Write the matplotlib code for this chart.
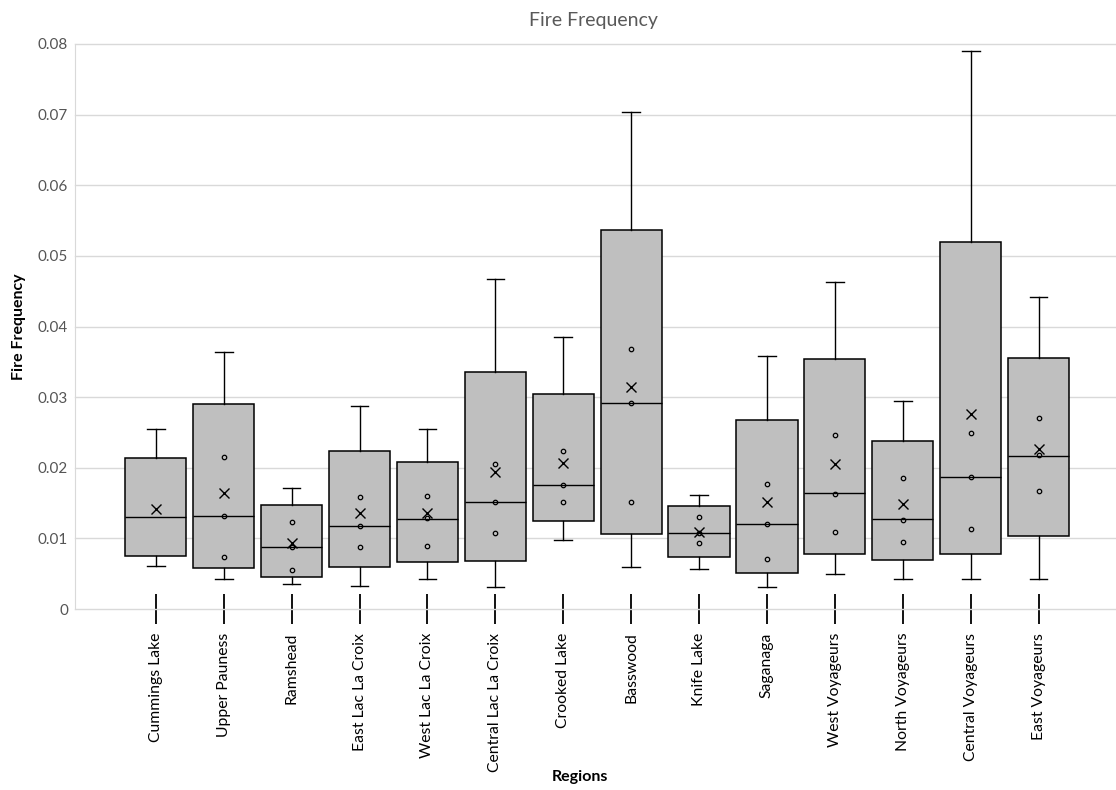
import matplotlib
matplotlib.use("Agg")
from matplotlib import pyplot as plt
import numpy as np

plt.rcParams['font.family'] = ['Lato', 'DejaVu Sans']

regions = ["Cummings Lake", "Upper Pauness", "Ramshead", "East Lac La Croix",
           "West Lac La Croix", "Central Lac La Croix", "Crooked Lake", "Basswood",
           "Knife Lake", "Saganaga", "West Voyageurs", "North Voyageurs",
           "Central Voyageurs", "East Voyageurs"]

whisker_lo = [0.0061, 0.0042, 0.0036, 0.0032, 0.0042, 0.0031, 0.0098, 0.0060,
              0.0057, 0.0031, 0.0049, 0.0043, 0.0042, 0.0043]
q1 = [0.0075, 0.0058, 0.0046, 0.0060, 0.0066, 0.0068, 0.0125, 0.0106,
      0.0074, 0.0051, 0.0078, 0.0070, 0.0078, 0.0103]
median = [0.0130, 0.0132, 0.0088, 0.0118, 0.0128, 0.0152, 0.0176, 0.0292,
          0.0108, 0.0120, 0.0164, 0.0127, 0.0187, 0.0217]
q3 = [0.0214, 0.0290, 0.0147, 0.0224, 0.0208, 0.0336, 0.0304, 0.0536,
      0.0146, 0.0268, 0.0354, 0.0238, 0.0520, 0.0355]
whisker_hi = [0.0255, 0.0364, 0.0172, 0.0288, 0.0255, 0.0467, 0.0385, 0.0703,
              0.0162, 0.0358, 0.0463, 0.0295, 0.0790, 0.0442]
mean = [0.0142, 0.0165, 0.0094, 0.0136, 0.0136, 0.0194, 0.0207, 0.0314,
        0.0109, 0.0151, 0.0205, 0.0149, 0.0276, 0.0227]
inner_points = [
    [],
    [0.0215, 0.0132, 0.0074],
    [0.0123, 0.0088, 0.0056],
    [0.0158, 0.0118, 0.0088],
    [0.0160, 0.0129, 0.0090],
    [0.0206, 0.0152, 0.0107],
    [0.0224, 0.0175, 0.0152],
    [0.0368, 0.0292, 0.0152],
    [0.0130, 0.0108, 0.0093],
    [0.0177, 0.0120, 0.0071],
    [0.0246, 0.0163, 0.0109],
    [0.0185, 0.0126, 0.0095],
    [0.0249, 0.0187, 0.0114],
    [0.0271, 0.0218, 0.0167],
]
yticks = [0, 0.01, 0.02, 0.03, 0.04, 0.05, 0.06, 0.07, 0.08]
ytick_labels = ["0", "0.01", "0.02", "0.03", "0.04", "0.05", "0.06", "0.07", "0.08"]

fig = plt.figure(figsize=(11.16, 7.9), dpi=100)
ax = fig.add_axes([0.0672, 0.229, 0.9328, 0.7154])

stats = []
for i in range(len(regions)):
    stats.append({'whislo': whisker_lo[i], 'q1': q1[i], 'med': median[i],
                  'q3': q3[i], 'whishi': whisker_hi[i], 'mean': mean[i],
                  'fliers': []})

pos = np.arange(len(regions))
ax.bxp(stats, positions=pos, widths=0.9, patch_artist=True, showmeans=True,
       showfliers=False, capwidths=0.26,
       boxprops=dict(facecolor='#bfbfbf', edgecolor='black', linewidth=1.1),
       medianprops=dict(color='black', linewidth=1.0),
       whiskerprops=dict(color='black', linewidth=1.0),
       capprops=dict(color='black', linewidth=1.0),
       meanprops=dict(marker='x', markeredgecolor='black', markersize=7,
                      markeredgewidth=1.0))

# the individual values inside each box
for i, pts in enumerate(inner_points):
    if pts:
        ax.plot([pos[i]] * len(pts), pts, 'o', markersize=3.2, markerfacecolor='none',
                markeredgecolor='black', markeredgewidth=0.9, zorder=4)

ax.set_xlim(-1.19, 14.14)
ax.set_ylim(0, 0.08)
ax.set_yticks(yticks)
ax.set_yticklabels(ytick_labels)
ax.set_xticks(pos)
ax.set_xticklabels(regions, rotation=90, fontsize=11.3, color='black')
ax.tick_params(axis='x', direction='inout', length=22, width=1.3, color='black', pad=6)
ax.tick_params(axis='y', length=0, pad=5, labelsize=11, labelcolor='#555555')
ax.yaxis.grid(True, color='#d9d9d9', linewidth=1)
ax.set_axisbelow(True)
for gl in ax.get_ygridlines():
    gl.set_clip_on(False)
for s in ['top', 'right', 'bottom']:
    ax.spines[s].set_visible(False)
ax.spines['left'].set_color('#d9d9d9')

ax.set_ylabel("Fire Frequency", fontsize=11.5, fontweight='bold')
ax.yaxis.set_label_coords(-0.047, 0.5)
fig.text(0.52, 0.017, "Regions", fontsize=11.5, fontweight='bold', ha='center', va='center')
fig.text(0.532, 0.963, "Fire Frequency", fontsize=14, color='#595959', ha='center', va='bottom')

fig.savefig("out.png", dpi=100)
